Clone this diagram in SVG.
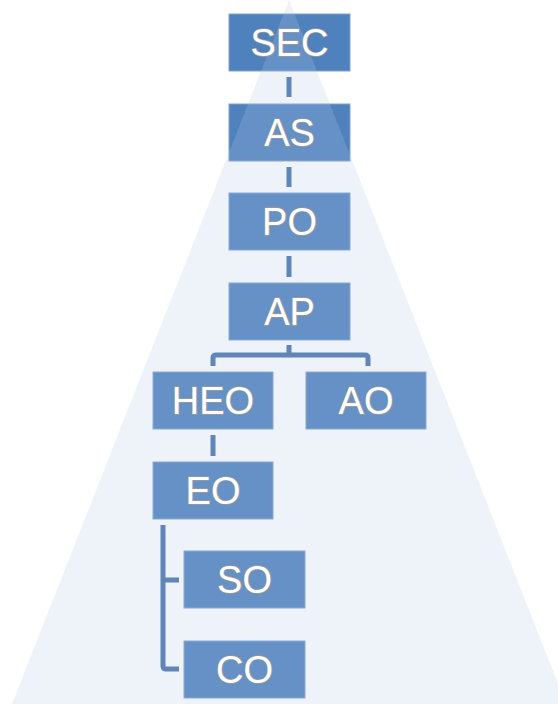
<svg xmlns="http://www.w3.org/2000/svg" width="558" height="704" viewBox="0 0 558 704">
<style>
.box{fill:#4f81bd;stroke:#7fa3d2;stroke-width:1}
.lbl{font-family:"Liberation Sans",Arial,sans-serif;font-size:38px;fill:#ffffff;stroke:#9a9a9a;stroke-width:1.6;paint-order:stroke;text-anchor:middle;stroke-linejoin:round}
.con{fill:none;stroke:#4672ac;stroke-width:5;stroke-linejoin:round}
</style>
<rect width="558" height="704" fill="#ffffff"/>
<g id="connectors">
<line class="con" x1="289" y1="77" x2="289" y2="97"/>
<line class="con" x1="289" y1="167" x2="289" y2="187"/>
<line class="con" x1="289" y1="256" x2="289" y2="277"/>
<path class="con" d="M289 345 V355 M213 366 V358 Q213 355 216 355 H365 Q368 355 368 358 V366"/>
<line class="con" x1="213" y1="435" x2="213" y2="456"/>
<path class="con" d="M163 525 V666 Q163 669 166 669 H179 M163 580 H179"/>
</g>
<g id="SEC"><rect class="box" x="229" y="14" width="121" height="57"/></g>
<g id="AS"><rect class="box" x="229" y="104" width="121" height="57"/></g>
<g id="PO"><rect class="box" x="229" y="193" width="121" height="57"/></g>
<g id="AP"><rect class="box" x="229" y="283" width="121" height="57"/></g>
<g id="HEO"><rect class="box" x="153" y="372" width="120" height="57"/></g>
<g id="AO"><rect class="box" x="306" y="372" width="120" height="57"/></g>
<g id="EO"><rect class="box" x="153" y="462" width="120" height="57"/></g>
<g id="SO"><rect class="box" x="184" y="551" width="121" height="57"/></g>
<g id="CO"><rect class="box" x="184" y="641" width="121" height="57"/></g>
<polygon id="pyramid" points="289,0 12,704 566,704" fill="#b4c6e6" fill-opacity="0.23"/>
<g id="labels">
<text class="lbl" x="289.5" y="56">SEC</text>
<text class="lbl" x="289.5" y="146">AS</text>
<text class="lbl" x="289.5" y="235">PO</text>
<text class="lbl" x="289.5" y="325">AP</text>
<text class="lbl" x="213" y="414">HEO</text>
<text class="lbl" x="366" y="414">AO</text>
<text class="lbl" x="213" y="504">EO</text>
<text class="lbl" x="244.5" y="593">SO</text>
<text class="lbl" x="244.5" y="683">CO</text>
</g>
</svg>
